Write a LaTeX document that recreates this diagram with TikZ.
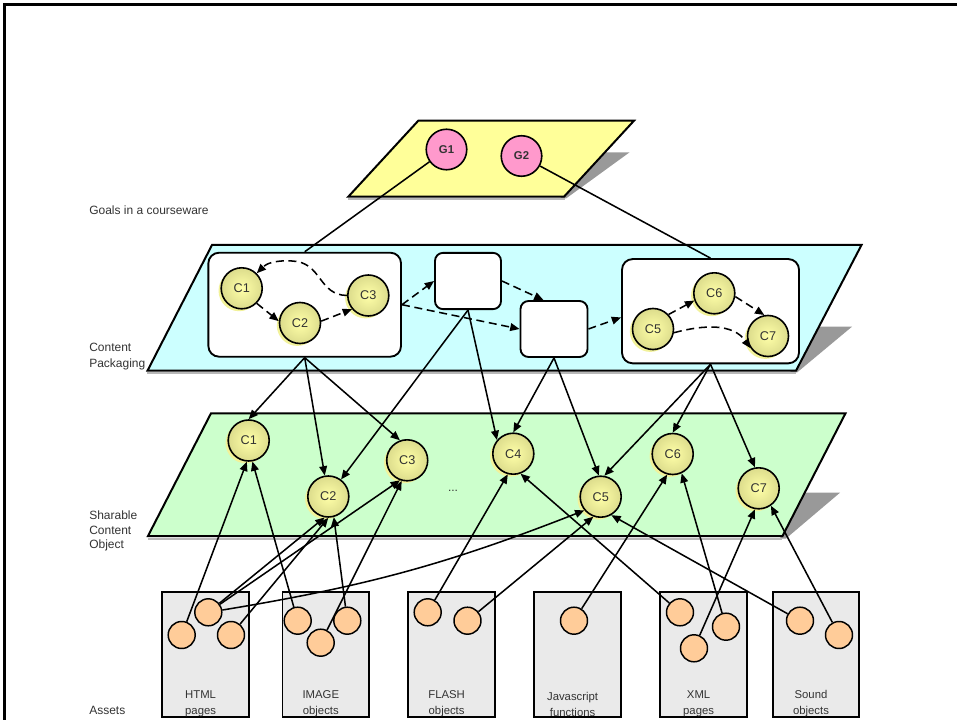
\documentclass[tikz,border=0pt]{standalone}
\usepackage{fontspec}
\setmainfont{Liberation Sans}
\usetikzlibrary{arrows.meta,shadows}
\definecolor{goalpink}{HTML}{FF99CC}
\definecolor{planeyellow}{HTML}{FFFF99}
\definecolor{planecyan}{HTML}{CCFFFF}
\definecolor{planegreen}{HTML}{CCFFCC}
\definecolor{assetgray}{HTML}{EAEAEA}
\definecolor{assetorange}{HTML}{FFCC99}
\definecolor{ballin}{HTML}{FFFFA8}
\definecolor{ballout}{HTML}{DCDC8C}
\definecolor{ballblob}{HTML}{F2F29A}
\definecolor{shadowgray}{HTML}{999999}
\definecolor{labelgray}{HTML}{333333}
\pgfdeclarelayer{background}
\pgfsetlayers{background,main}
\begin{document}
\begin{tikzpicture}[x=0.75pt,y=-0.75pt,
  conn/.style={line width=1.15pt, -{Triangle[length=7pt,width=5.8pt]}},
  dconn/.style={conn, dash pattern=on 6pt off 3.5pt},
  gline/.style={line width=1.15pt},
  planeedge/.style={draw=black, line width=1.5pt, line join=miter},
  cball/.style={circle, draw=black, line width=1.2pt, minimum size=30.75pt, inner sep=0pt,
    inner color=ballin, outer color=ballout, font=\fontsize{9.5}{10}\selectfont, text=labelgray,
    drop shadow={shadow xshift=-2pt, shadow yshift=-1.8pt, fill=ballblob, opacity=1}},
  gnode/.style={circle, draw=black, line width=1.2pt, minimum size=30.4pt, inner sep=0pt,
    fill=goalpink, font=\fontsize{8.5}{10}\selectfont\bfseries, text=labelgray},
  pkgbox/.style={draw=black, line width=1.4pt, fill=white, rounded corners=8pt},
  assetbox/.style={draw=black, line width=1.4pt, fill=assetgray, minimum width=65pt,
    minimum height=93.3pt, inner sep=0pt},
  anode/.style={circle, draw=black, line width=1.1pt, fill=assetorange, minimum size=20.25pt, inner sep=0pt},
  lbl/.style={font=\fontsize{9}{12}\selectfont, text=labelgray, align=left, anchor=west, inner sep=0pt},
  assetlbl/.style={font=\fontsize{8.5}{12}\selectfont, text=labelgray, align=center, inner sep=0pt}
]
\useasboundingbox (0,0) rectangle (957,720);

% ---------- goals ----------
\node[gnode] (G1) at (446.5,149.5) {G1};
\node[gnode] (G2) at (521.5,156) {G2};

% ---------- content packaging ----------
\node[pkgbox, minimum width=144.5pt, minimum height=78pt] (P1) at (304.7,304.7) {};
\node[pkgbox, rounded corners=6pt, minimum width=49.5pt, minimum height=42.2pt] (P2) at (468,281) {};
\node[pkgbox, rounded corners=6pt, minimum width=50.25pt, minimum height=42pt] (P3) at (554,329) {};
\node[pkgbox, minimum width=132.75pt, minimum height=78.2pt] (P4) at (710.5,311.2) {};

\node[cball] (pC1) at (241.7,288.3) {C1};
\node[cball] (pC2) at (300,323) {C2};
\node[cball] (pC3) at (368.3,295.5) {C3};
\node[cball] (pC5) at (653,329) {C5};
\node[cball] (pC6) at (714.3,293.3) {C6};
\node[cball] (pC7) at (768,336) {C7};

% ---------- sharable content objects ----------
\node[cball] (sC1) at (248.7,440.5) {C1};
\node[cball] (sC2) at (328.3,496.5) {C2};
\node[cball] (sC3) at (407.2,460.3) {C3};
\node[cball] (sC4) at (513.3,453.7) {C4};
\node[cball] (sC5) at (600.7,496.7) {C5};
\node[cball] (sC6) at (672.7,454) {C6};
\node[cball] (sC7) at (758.7,488.3) {C7};
\node[font=\fontsize{9}{10}\selectfont, text=labelgray] (dots) at (453,491) {...};

% ---------- assets ----------
\node[assetbox] (bHTML) at (205.65,654.5) {};
\node[assetbox] (bIMG) at (325.85,654.5) {};
\node[assetbox] (bFLASH) at (451.65,654.5) {};
\node[assetbox] (bJS) at (577.65,654.5) {};
\node[assetbox] (bXML) at (703.65,654.5) {};
\node[assetbox] (bSND) at (816,654.5) {};

\node[assetlbl] (tHTML) at (200.6,704) {HTML\\pages};
\node[assetlbl] (tIMG) at (320.8,704) {IMAGE\\objects};
\node[assetlbl] (tFLASH) at (446.6,704) {FLASH\\objects};
\node[assetlbl] (tJS) at (572.6,704) {Javascript\\functions};
\node[assetlbl] (tXML) at (698.6,704) {XML\\pages};
\node[assetlbl] (tSND) at (811,704) {Sound\\objects};

\node[anode] (h1) at (181.7,635) {};
\node[anode] (h2) at (208.3,612.3) {};
\node[anode] (h3) at (231,635) {};
\node[anode] (i1) at (297.7,620.7) {};
\node[anode] (i2) at (320.7,642.7) {};
\node[anode] (i3) at (347.3,620.7) {};
\node[anode] (f1) at (427.7,612.3) {};
\node[anode] (f2) at (467.5,620.7) {};
\node[anode] (j1) at (574,620.7) {};
\node[anode] (x1) at (680,612.3) {};
\node[anode] (x2) at (726,626.7) {};
\node[anode] (x3) at (694,648.3) {};
\node[anode] (s1) at (800,620.7) {};
\node[anode] (s2) at (839,635) {};

% ---------- layer labels ----------
\node[lbl] (Lgoals) at (89,210) {Goals in a courseware};
\node[lbl] (Lpack) at (89,357) {Content\\Packaging};
\node[lbl, font=\fontsize{9}{10.7}\selectfont] (Lsco) at (89,531) {Sharable\\Content\\Object};
\node[lbl] (Lassets) at (89,710.7) {Assets};

% ---------- goal links ----------
\draw[gline] (G1) -- (P1.north);
\draw[gline] (G2) -- (P4.north);

% ---------- sequencing (dashed) ----------
\draw[dconn] (pC1.-45) -- (pC2.175);
\draw[dconn] (pC2.5) -- (pC3.220);
\draw[dconn] (pC3.180) .. controls (318,295) and (322,262) .. (292,261)
   .. controls (274,260) and (266,264) .. (pC1.45);
\draw[dconn] (P1.east) -- (P2.west);
\draw[dconn] (P1.east) -- (P3.west);
\draw[dconn] (P2.east) -- (P3.110);
\draw[dconn] (P3.east) -- (P4.184);
\draw[dconn] (pC5.43) -- (pC6.200);
\draw[dconn] (pC6.-9) -- (pC7.100);
\draw[dconn] (pC5.-10) to[out=15,in=125] (pC7.215);

% ---------- packaging -> SCO ----------
\draw[conn] (P1.south) -- (sC1.north);
\draw[conn] (P1.south) -- (sC2);
\draw[conn] (P1.south) -- (sC3.110);
\draw[conn] (P2.south) -- (sC2);
\draw[conn] (P2.south) -- (sC4.140);
\draw[conn] (P3.south) -- (sC4.north);
\draw[conn] (P3.south) -- (sC5.95);
\draw[conn] (P4.south) -- (sC5.80);
\draw[conn] (P4.south) -- (sC6.north);
\draw[conn] (P4.south) -- (sC7.100);

% ---------- assets -> SCO ----------
\draw[conn] (h1) -- (sC1.265);
\draw[conn] (i1) -- (sC1.280);
\draw[conn] (h2) -- (sC2.260);
\draw[conn] (h3) -- (sC2.270);
\draw[conn] (i3) -- (sC2.285);
\draw[conn] (h2) -- (sC3.250);
\draw[conn] (i2) -- (sC3.255);
\draw[conn] (h2) to[bend right=6] (sC5.220);
\draw[conn] (f1) -- (sC4.255);
\draw[conn] (x1) -- (sC4.290);
\draw[conn] (f2) -- (sC5.250);
\draw[conn] (s1) -- (sC5.300);
\draw[conn] (j1) -- (sC6.255);
\draw[conn] (x2) -- (sC6.295);
\draw[conn] (x3) -- (sC7.260);
\draw[conn] (s2) -- (sC7.305);

% ---------- planes and frame ----------
\begin{pgfonlayer}{background}
\draw[line width=1.8pt] (957,4.5) -- (4.5,4.5) -- (4.5,720);
% goals plane
\fill[shadowgray] (600,152.3) -- (629.6,152.3) -- (566,198.5) -- (560,198.5) -- cycle;
\draw[shadowgray!70, line width=1.5pt] (348,199) -- (565,199);
\draw[planeedge, fill=planeyellow] (418.3,120.7) -- (634,120.7) -- (564,196.7) -- (348.3,196.7) -- cycle;
% packaging plane
\fill[shadowgray] (815,326.7) -- (852,326.7) -- (797,372.5) -- (790,372.5) -- cycle;
\draw[shadowgray!70, line width=1.5pt] (147,373) -- (796,373);
\draw[planeedge, fill=planecyan] (212,245) -- (861.5,245) -- (796,370.7) -- (147.5,370.7) -- cycle;
% SCO plane
\fill[shadowgray] (800,492.7) -- (840,492.7) -- (786,538.5) -- (780,538.5) -- cycle;
\draw[shadowgray!70, line width=1.5pt] (148,538.5) -- (782,538.5);
\draw[planeedge, fill=planegreen] (211,413.3) -- (845.5,413.3) -- (782.5,536) -- (148,536) -- cycle;
\end{pgfonlayer}
\end{tikzpicture}
\end{document}
